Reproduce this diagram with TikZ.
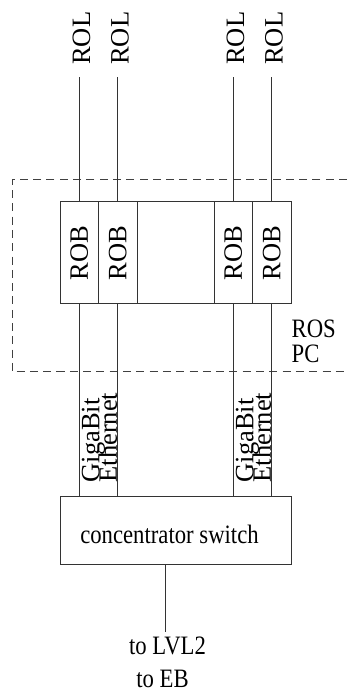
\documentclass[tikz,border=0pt]{standalone}
\usepackage{fontspec}
\setmainfont{Liberation Serif}
\usetikzlibrary{positioning,calc}
\tikzset{
  wire/.style={draw=black!80, line width=0.9pt},
  frame/.style={draw=black!75, line width=0.9pt, dash pattern=on 8pt off 5.3pt},
  robcell/.style={draw=black!80, line width=0.9pt, outer sep=0pt, inner sep=0pt, minimum width=38.5pt, minimum height=102.3pt, font=\fontsize{26.5}{30}\selectfont},
  vtext/.style={rotate=90, inner sep=0pt, font=\fontsize{26.5}{30}\selectfont},
  htext/.style={inner sep=0pt, font=\fontsize{22.7}{26}\selectfont, yscale=1.17, transform shape}
}

\begin{document}
\begin{tikzpicture}[x=1pt, y=1pt]
  \useasboundingbox (0,0) rectangle (347,694);
  \draw[frame] (347,514.7) -- (12,514.7) -- (12,322.3) -- (347,322.3);
  \node[robcell] (rob1) at (79.25,441.2) {\rotatebox{90}{ROB}};
  \node[robcell, right=0pt of rob1] (rob2) {\rotatebox{90}{ROB}};
  \node[robcell, minimum width=77pt, right=0pt of rob2] (gap) {};
  \node[robcell, right=0pt of gap] (rob3) {\rotatebox{90}{ROB}};
  \node[robcell, right=0pt of rob3] (rob4) {\rotatebox{90}{ROB}};
  \node[htext, align=left, anchor=north west] (rospc) at (291.5,374) {ROS\\[-5.2pt]PC};
  \node[draw=black!80, line width=0.9pt, outer sep=0pt, minimum width=231pt, minimum height=67.6pt, below=192.7pt of gap] (sw) {};
  \node[htext, anchor=base] (swtext) at ($(sw.center)+(-6,-12.8)$) {concentrator switch};
  \foreach \i in {1,...,4} {
    \node[vtext, inner xsep=12pt, anchor=west] (rol\i) at ($(rob\i.north)+(2.3,124.7)$) {ROL};
    \draw[wire] (rob\i.north) -- (rob\i.north |- rol\i.west);
    \draw[wire] (rob\i.south) -- (rob\i.south |- sw.north);
  }
  \foreach \i in {1,3}
    \node[vtext, align=left, anchor=north west] (gbe\i) at ($(rob\i.south |- sw.north)+(2.5,14)$) {GigaBit\\[-12.5pt]Ethernet};
  % uplink
  \node[htext, anchor=base] (lvl) at (167.5,39) {to LVL2};
  \node[htext, anchor=base] (eb) at (162.5,6) {to EB};
  \coordinate (out) at (165.7,62.3);
  \draw[wire] (out |- sw.south) -- (out);
\end{tikzpicture}
\end{document}
